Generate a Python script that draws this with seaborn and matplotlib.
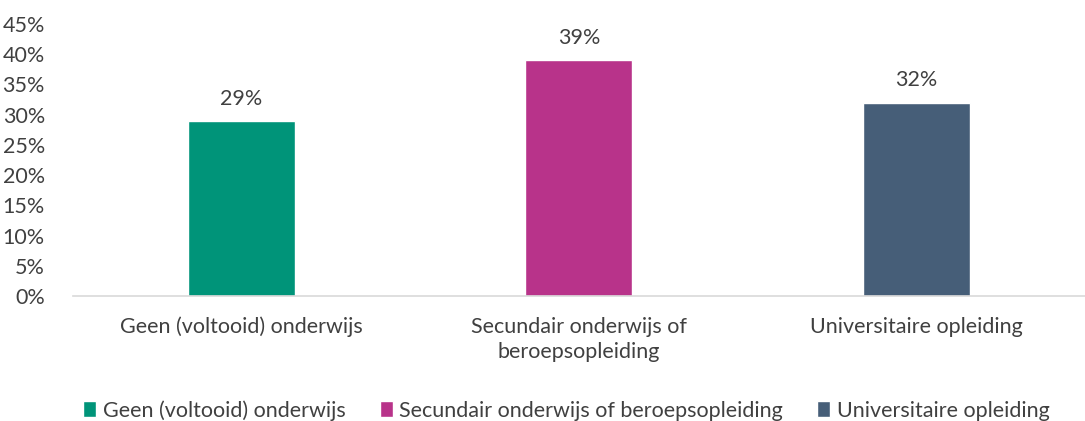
import matplotlib
matplotlib.use("Agg")
import matplotlib.pyplot as plt
import seaborn as sns
import pandas as pd
from matplotlib.patches import Patch
from matplotlib.ticker import PercentFormatter

categories = ["Geen (voltooid) onderwijs",
              "Secundair onderwijs of beroepsopleiding",
              "Universitaire opleiding"]
tick_labels = ["Geen (voltooid) onderwijs",
               "Secundair onderwijs of\nberoepsopleiding",
               "Universitaire opleiding"]
values = [0.29, 0.39, 0.32]
colors = ["#009479", "#B8338A", "#465E78"]

df = pd.DataFrame({"category": categories, "value": values})

sns.set_style("white")
plt.rcParams["font.family"] = ["Lato", "DejaVu Sans"]
text_color = "#404040"
fs = 15.5

fig = plt.figure(figsize=(10.85, 4.21), dpi=100)
ax = fig.add_axes([0.067, 0.297, 0.933, 0.646])

sns.barplot(data=df, x="category", y="value", hue="category",
            palette=colors, width=0.317, ax=ax, legend=False, saturation=1)

ax.set_ylim(0, 0.45)
ax.set_xlim(-0.5, 2.5)
ax.set_yticks([i * 0.05 for i in range(10)])
ax.yaxis.set_major_formatter(PercentFormatter(1.0, decimals=0))
ax.set_xticks(range(3))
ax.set_xticklabels(tick_labels, fontsize=fs, color=text_color, linespacing=1.35)
ax.tick_params(axis="y", labelsize=fs, colors=text_color, length=0, pad=20)
ax.tick_params(axis="x", length=0, pad=15)
ax.set_xlabel("")
ax.set_ylabel("")

for s in ["top", "right", "left"]:
    ax.spines[s].set_visible(False)
ax.spines["bottom"].set_color("#d9d9d9")
ax.spines["bottom"].set_linewidth(1.2)

for i, v in enumerate(values):
    ax.text(i, v + 0.02, f"{v:.0%}", ha="center", va="bottom",
            fontsize=fs, color=text_color)

handles = [Patch(facecolor=c, label=l) for c, l in zip(colors, categories)]
fig.legend(handles=handles, loc="lower center", bbox_to_anchor=(0.522, -0.045),
           ncol=3, frameon=False, fontsize=fs, handlelength=0.6,
           handleheight=0.75, handletextpad=0.3, columnspacing=1.6,
           labelcolor=text_color)

fig.savefig("out.png", dpi=100)
